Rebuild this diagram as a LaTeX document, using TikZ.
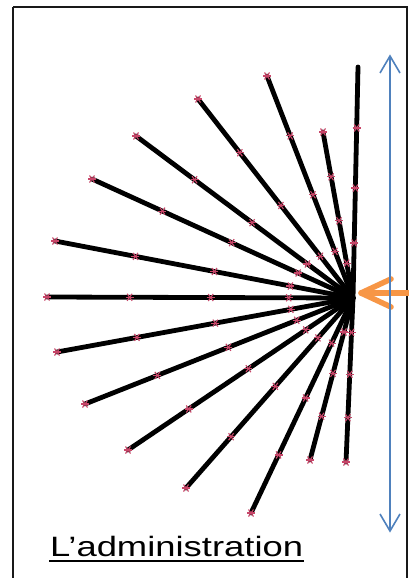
\documentclass[tikz,border=0pt]{standalone}
\usepackage{fontspec}
\newfontfamily\arialf{Liberation Sans}
\usetikzlibrary{calc}
\definecolor{mk}{RGB}{200,70,105}
\definecolor{orangeA}{RGB}{247,150,70}
\definecolor{blueA}{RGB}{79,129,189}
\tikzset{
  ray/.style={line width=4.8pt, black, line cap=round},
  mkr/.style={mk, line width=1.1pt},
  frame/.style={line width=2pt, black!90},
}
\newcommand{\mymark}[1]{%
  \draw[mkr] ($(#1)+(-4,0)$) -- ($(#1)+(4,0)$);
  \draw[mkr] ($(#1)+(-2.5,-3.5)$) -- ($(#1)+(2.5,3.5)$);
  \draw[mkr] ($(#1)+(-2.5,3.5)$) -- ($(#1)+(2.5,-3.5)$);}
\begin{document}
\begin{tikzpicture}[x=1pt,y=-1pt]
\useasboundingbox (0,0) rectangle (409,578);
\fill[white] (0,0) rectangle (409,578);
\draw[frame] (13,7) -- (13,600) (13,7) -- (407,7) -- (407,600);
\coordinate (C) at (353,298);
% rays
\foreach \n/\ex/\ey in {a/358/67, b/323/132, c/267/76, d/198/99, e/136/136, f/92/179, g/55/241, h/47/297, i/57/352, j/85/404, k/128/450, l/186/488, m/251/513, n/310/460, o/346/462}{
  \coordinate (E\n) at (\ex,\ey);
  \draw[ray] (C) -- (E\n);
}
\foreach \n in {b,c,d,e,f,g,h,i,j,k,l,m,n,o}{
  \foreach \f in {1,0.73,0.465,0.21}{
    \coordinate (M) at ($(C)!\f!(E\n)$);
    \mymark{M}
  }
}
\foreach \f in {0.736,0.476,0.238}{
  \coordinate (M) at ($(C)!\f!(Ea)$);
  \mymark{M}
}
% orange arrow
\coordinate (OT) at (361,293);
\coordinate (OS) at (412,293);
\coordinate (OA) at (391,279);
\coordinate (OB) at (391,307);
\draw[orangeA, line width=5.5pt, line cap=round, line join=round] (OS) -- (OT);
\draw[orangeA, line width=5.5pt, line cap=round, line join=round] (OA) -- (OT) -- (OB);
% blue double arrow
\coordinate (BT) at (390,56);
\coordinate (BB) at (390,531);
\draw[blueA, line width=1.6pt] (BT) -- (BB);
\draw[blueA, line width=1.6pt, line join=miter] (380,73) -- (BT) -- (400,73);
\draw[blueA, line width=1.6pt, line join=miter] (380,514) -- (BB) -- (400,514);
% label
\node[anchor=base west, inner sep=0pt] (lab) at (50,556) {\scalebox{1.3}[1]{\arialf\fontsize{28}{30}\selectfont L’administration}};
\draw[line width=2pt] ($(lab.base west)+(-1,5)$) -- ($(lab.base east)+(1,5)$);
\end{tikzpicture}
\end{document}
